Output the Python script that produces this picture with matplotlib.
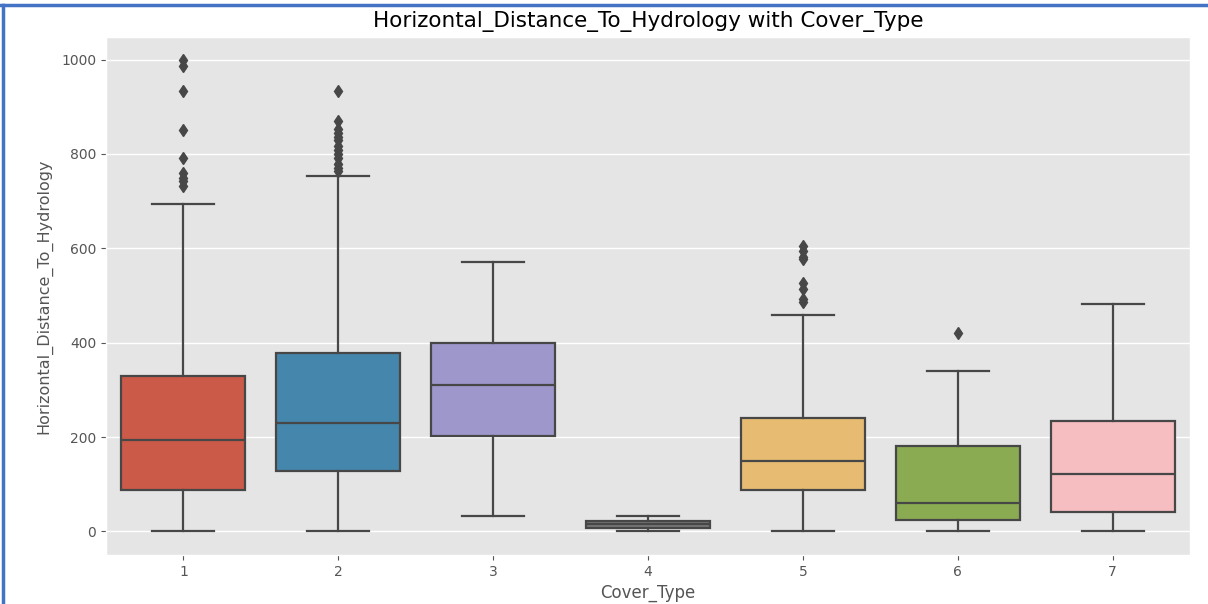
import colorsys
import matplotlib
matplotlib.use("Agg")
import matplotlib.pyplot as plt
import matplotlib.colors as mcolors
from matplotlib.lines import Line2D

plt.style.use("ggplot")

categories = ["1", "2", "3", "4", "5", "6", "7"]
whislo = [0, 0, 32, 0, 0, 0, 0]
q1 = [87, 127, 203, 7, 87, 24, 42]
med = [193, 229, 311, 15, 150, 60, 121]
q3 = [330, 379, 400, 23, 241, 180, 234]
whishi = [695, 754, 572, 32, 458, 340, 482]
fliers = [
    [1000, 986, 934, 851, 792, 760, 749, 742, 732],
    [933, 871, 852, 845, 837, 830, 816, 808, 799, 792, 778, 770, 763],
    [],
    [],
    [604, 594, 582, 578, 527, 513, 492, 486],
    [420],
    [],
]
base_colors = ["#E24A33", "#348ABD", "#988ED5", "#777777", "#FBC15E", "#8EBA42", "#FFB5B8"]


def desaturate(c, prop=0.75):
    r, g, b = mcolors.to_rgb(c)
    h, l, s = colorsys.rgb_to_hls(r, g, b)
    return colorsys.hls_to_rgb(h, l, s * prop)


fig = plt.figure(figsize=(12.08, 6.04), dpi=100)
fig.patch.set_facecolor("white")
ax = fig.add_axes([106 / 1208, 1 - 555 / 604, (1190 - 106) / 1208, (555 - 37) / 604])

stats = []
for i in range(len(categories)):
    stats.append(dict(whislo=whislo[i], q1=q1[i], med=med[i], q3=q3[i],
                      whishi=whishi[i], fliers=fliers[i], label=categories[i]))

line_col = "#474747"
bp = ax.bxp(stats, positions=range(len(categories)), widths=0.8, patch_artist=True,
            boxprops=dict(edgecolor=line_col, linewidth=1.6),
            medianprops=dict(color=line_col, linewidth=1.6),
            whiskerprops=dict(color=line_col, linewidth=1.6),
            capprops=dict(color=line_col, linewidth=1.6),
            flierprops=dict(marker="d", markerfacecolor=line_col, markeredgecolor=line_col,
                            markersize=6, linestyle="none"),
            capwidths=0.4)
for patch, c in zip(bp["boxes"], base_colors):
    patch.set_facecolor(desaturate(c))

ax.set_xlim(-0.5, len(categories) - 0.5)
ax.set_ylim(-50, 1048)
ax.set_xticks(range(len(categories)))
ax.set_xticklabels(categories)
ax.set_yticks([0, 200, 400, 600, 800, 1000])
ax.grid(axis="x", visible=False)
ax.grid(axis="y", color="white", linewidth=1)
ax.tick_params(labelsize=10, colors="#555555")
ax.set_xlabel("Cover_Type", fontsize=12, color="#555555")
ax.set_ylabel("Horizontal_Distance_To_Hydrology", fontsize=11.5, color="#555555", labelpad=6)
ax.set_title("Horizontal_Distance_To_Hydrology with Cover_Type", fontsize=15.5, color="black", pad=7)

fig.add_artist(Line2D([0, 1], [1 - 5 / 604, 1 - 5 / 604], transform=fig.transFigure,
                      color="#4472C4", linewidth=2.5))
fig.add_artist(Line2D([2.5 / 1208, 2.5 / 1208], [0, 1 - 5 / 604], transform=fig.transFigure,
                      color="#4472C4", linewidth=2.5))

fig.savefig("out.png", dpi=100)
